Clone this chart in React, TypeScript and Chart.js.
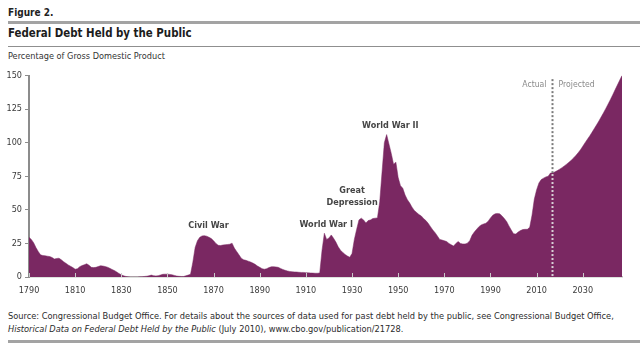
import React, { useEffect, useRef } from "react";
import { Chart, registerables } from "chart.js";

Chart.register(...registerables);

// ---------------- data ----------------
const years: number[] = [
  1790, 1791, 1792, 1793, 1794, 1795, 1796, 1797, 1798, 1799,
  1800, 1801, 1802, 1803, 1804, 1805, 1806, 1807, 1808, 1809,
  1810, 1811, 1812, 1813, 1814, 1815, 1816, 1817, 1818, 1819,
  1820, 1821, 1822, 1823, 1824, 1825, 1826, 1827, 1828, 1829,
  1830, 1831, 1832, 1833, 1834, 1835, 1836, 1837, 1838, 1839,
  1840, 1841, 1842, 1843, 1844, 1845, 1846, 1847, 1848, 1849,
  1850, 1851, 1852, 1853, 1854, 1855, 1856, 1857, 1858, 1859,
  1860, 1861, 1862, 1863, 1864, 1865, 1866, 1867, 1868, 1869,
  1870, 1871, 1872, 1873, 1874, 1875, 1876, 1877, 1878, 1879,
  1880, 1881, 1882, 1883, 1884, 1885, 1886, 1887, 1888, 1889,
  1890, 1891, 1892, 1893, 1894, 1895, 1896, 1897, 1898, 1899,
  1900, 1901, 1902, 1903, 1904, 1905, 1906, 1907, 1908, 1909,
  1910, 1911, 1912, 1913, 1914, 1915, 1916, 1917, 1918, 1919,
  1920, 1921, 1922, 1923, 1924, 1925, 1926, 1927, 1928, 1929,
  1930, 1931, 1932, 1933, 1934, 1935, 1936, 1937, 1938, 1939,
  1940, 1941, 1942, 1943, 1944, 1945, 1946, 1947, 1948, 1949,
  1950, 1951, 1952, 1953, 1954, 1955, 1956, 1957, 1958, 1959,
  1960, 1961, 1962, 1963, 1964, 1965, 1966, 1967, 1968, 1969,
  1970, 1971, 1972, 1973, 1974, 1975, 1976, 1977, 1978, 1979,
  1980, 1981, 1982, 1983, 1984, 1985, 1986, 1987, 1988, 1989,
  1990, 1991, 1992, 1993, 1994, 1995, 1996, 1997, 1998, 1999,
  2000, 2001, 2002, 2003, 2004, 2005, 2006, 2007, 2008, 2009,
  2010, 2011, 2012, 2013, 2014, 2015, 2016, 2017, 2018, 2019,
  2020, 2021, 2022, 2023, 2024, 2025, 2026, 2027, 2028, 2029,
  2030, 2031, 2032, 2033, 2034, 2035, 2036, 2037, 2038, 2039,
  2040, 2041, 2042, 2043, 2044, 2045, 2046, 2047,
];

// Federal debt held by the public, percent of GDP
const debtPct: number[] = [
  29.5, 28.0, 25.5, 22.0, 19.0, 16.5, 16.0, 15.8, 15.5, 15.2,
  14.5, 13.4, 13.8, 14.0, 12.8, 11.4, 10.2, 9.0, 8.0, 7.0,
  5.8, 6.2, 7.7, 8.5, 9.2, 9.8, 8.8, 7.2, 7.0, 7.2,
  7.8, 8.4, 8.2, 7.8, 7.3, 6.5, 5.6, 4.8, 3.8, 2.6,
  1.6, 0.9, 0.4, 0.1, 0.0, 0.0, 0.0, 0.0, 0.1, 0.2,
  0.4, 0.6, 0.9, 1.4, 1.0, 0.8, 1.0, 1.5, 2.0, 2.1,
  2.1, 1.9, 1.6, 1.2, 0.7, 0.5, 0.4, 0.4, 0.9, 1.4,
  2.0, 11.0, 22.0, 27.0, 29.5, 30.6, 30.8, 30.4, 29.6, 28.6,
  27.0, 25.0, 23.6, 23.4, 23.8, 24.0, 24.2, 24.4, 25.2, 21.5,
  19.0, 16.5, 14.0, 12.8, 12.4, 11.8, 11.2, 10.4, 9.4, 8.2,
  7.2, 6.2, 5.8, 6.2, 7.0, 7.6, 7.7, 7.5, 7.2, 6.4,
  5.6, 5.0, 4.5, 4.1, 3.9, 3.8, 3.7, 3.5, 3.4, 3.4,
  3.2, 3.1, 3.0, 2.9, 2.8, 2.8, 3.0, 20.0, 32.6, 28.0,
  29.0, 31.3, 28.8, 26.0, 22.5, 20.0, 18.2, 16.8, 15.6, 14.7,
  17.5, 28.0, 35.5, 42.5, 43.8, 42.5, 40.2, 42.0, 42.5, 43.5,
  43.8, 44.0, 56.0, 78.0, 100.0, 106.0, 99.0, 92.0, 84.0, 85.5,
  74.0, 68.0, 66.0, 61.0, 57.5, 55.0, 52.0, 49.5, 48.0, 46.5,
  45.5, 43.5, 42.0, 40.0, 37.5, 35.0, 33.0, 30.5, 28.0, 27.5,
  27.0, 26.4, 25.0, 24.0, 23.0, 25.0, 26.4, 25.0, 24.6, 24.6,
  25.2, 27.0, 31.0, 33.5, 35.5, 37.5, 38.8, 39.5, 40.0, 41.5,
  44.0, 46.0, 47.0, 47.3, 47.0, 45.5, 43.5, 41.3, 38.0, 35.0,
  32.2, 32.0, 33.5, 34.6, 35.3, 35.5, 35.5, 37.0, 46.0, 58.0,
  65.0, 70.0, 72.5, 73.6, 74.5, 75.0, 77.4, 77.5, 78.3, 79.2,
  80.3, 81.4, 82.7, 84.0, 85.4, 86.9, 88.6, 90.5, 92.5, 94.7,
  97.3, 100.0, 102.5, 105.0, 107.7, 110.5, 113.3, 116.2, 119.2, 122.3,
  125.5, 128.8, 132.2, 135.7, 139.3, 142.9, 146.5, 150.0,
];

const xTickYears: number[] = [1790, 1810, 1830, 1850, 1870, 1890, 1910, 1930, 1950, 1970, 1990, 2010, 2030];
const yTickValues: number[] = [0, 25, 50, 75, 100, 125, 150];

const firstYear = 1790;
const lastYear = 2047;
const lastActualYear = 2016;

// event labels: text lines, anchor year, anchor value (centre of the text block)
const eventLabels: string[][] = [["Civil War"], ["World War I"], ["Great", "Depression"], ["World War II"]];
const eventYears: number[] = [1867.8, 1918.8, 1930, 1946.6];
const eventValues: number[] = [38, 38.8, 59.7, 112.7];

const actualLabel = "Actual";
const projectedLabel = "Projected";
const phaseLabelValue = 143.3;

const COND = '"DejaVu Sans Condensed", "Liberation Sans", sans-serif';
const PURPLE = "#7a2862";

// ---------------- plugin ----------------
const overlayPlugin = {
  id: "overlay",
  afterDatasetsDraw(chart: any) {
    const { ctx, chartArea, scales } = chart;
    const x = scales.x;
    const y = scales.y;
    ctx.save();

    // inward tick marks on the x axis
    ctx.strokeStyle = "#c9c9c9";
    ctx.lineWidth = 1;
    xTickYears.forEach((v) => {
      const px = Math.round(x.getPixelForValue(v)) + 0.5;
      ctx.beginPath();
      ctx.moveTo(px, chartArea.bottom);
      ctx.lineTo(px, chartArea.bottom - 4);
      ctx.stroke();
    });

    // actual / projected divider
    const idx = years.indexOf(lastActualYear);
    const splitVal = debtPct[idx];
    const dx = Math.round(x.getPixelForValue(lastActualYear + 0.6)) + 0.5;
    const splitY = y.getPixelForValue(splitVal);
    const topY = y.getPixelForValue(phaseLabelValue + 4);
    ctx.lineWidth = 2;
    ctx.setLineDash([2, 2]);
    ctx.strokeStyle = "#7a7a7a";
    ctx.beginPath();
    ctx.moveTo(dx, topY);
    ctx.lineTo(dx, splitY);
    ctx.stroke();
    ctx.strokeStyle = "#d8d0d6";
    ctx.beginPath();
    ctx.moveTo(dx, splitY + 1);
    ctx.lineTo(dx, chartArea.bottom);
    ctx.stroke();
    ctx.setLineDash([]);

    ctx.font = `8.6px ${COND}`;
    ctx.fillStyle = "#8a8a8a";
    ctx.textBaseline = "middle";
    const ly = y.getPixelForValue(phaseLabelValue);
    ctx.textAlign = "right";
    ctx.fillText(actualLabel, dx - 6, ly);
    ctx.textAlign = "left";
    ctx.fillText(projectedLabel, dx + 6, ly);

    // event labels
    ctx.font = `bold 9px ${COND}`;
    ctx.fillStyle = "#454545";
    ctx.textAlign = "center";
    eventLabels.forEach((lines, i) => {
      const cx = x.getPixelForValue(eventYears[i]);
      const cy = y.getPixelForValue(eventValues[i]);
      const lh = 11.7;
      const start = cy - ((lines.length - 1) * lh) / 2;
      lines.forEach((t, j) => ctx.fillText(t, cx, start + j * lh));
    });

    ctx.restore();
  },
};

// ---------------- component ----------------
function DebtChart() {
  const ref = useRef<HTMLCanvasElement | null>(null);
  useEffect(() => {
    if (!ref.current) return;
    const points = years.map((yr, i) => ({ x: yr, y: debtPct[i] }));
    const chart = new Chart(ref.current, {
      type: "line",
      data: {
        datasets: [
          {
            data: points,
            fill: "origin",
            backgroundColor: PURPLE,
            borderColor: PURPLE,
            borderWidth: 0.5,
            pointRadius: 0,
            tension: 0,
          },
        ],
      },
      options: {
        animation: false,
        responsive: false,
        maintainAspectRatio: false,
        events: [],
        layout: { padding: { top: 15.5, right: 18, left: 0, bottom: 0 } },
        plugins: { legend: { display: false }, tooltip: { enabled: false }, title: { display: false } },
        scales: {
          x: {
            type: "linear",
            min: firstYear,
            max: lastYear,
            afterBuildTicks: (scale: any) => {
              scale.ticks = xTickYears.map((v) => ({ value: v }));
            },
            afterFit: (scale: any) => {
              scale.height = 23;
            },
            grid: { display: true, drawOnChartArea: false, drawTicks: false },
            border: { display: true, color: "#bcc4bc", width: 1.5 },
            ticks: {
              autoSkip: false,
              maxRotation: 0,
              padding: 8,
              color: "#3a3a3a",
              font: { family: COND, size: 9 },
              callback: (v: any) => String(v),
            },
          },
          y: {
            type: "linear",
            min: 0,
            max: 150,
            afterBuildTicks: (scale: any) => {
              scale.ticks = yTickValues.map((v) => ({ value: v }));
            },
            afterFit: (scale: any) => {
              scale.width = 29;
            },
            grid: { display: true, drawOnChartArea: false, drawTicks: true, tickLength: 4, color: "#8c8c8c", lineWidth: 1 },
            border: { display: true, color: "#8c8c8c", width: 2 },
            ticks: {
              padding: 3,
              color: "#3a3a3a",
              font: { family: COND, size: 9 },
            },
          },
        },
      },
      plugins: [overlayPlugin],
    });
    return () => chart.destroy();
  }, []);
  return <canvas ref={ref} width={640} height={240} style={{ position: "absolute", left: 0, top: 60, width: 640, height: 240 }} />;
}

export default function App() {
  const base: React.CSSProperties = { position: "absolute", whiteSpace: "nowrap", lineHeight: 1, fontFamily: COND };
  return (
    <div style={{ position: "absolute", left: 0, top: 0, width: 640, height: 359, background: "#ffffff", overflow: "hidden" }}>
      <div style={{ ...base, left: 8, top: 8, fontSize: 10, fontWeight: 700, color: "#222" }}>Figure 2.</div>
      <div style={{ position: "absolute", left: 8, top: 21, width: 632, height: 2.5, background: "#a3a3a3" }} />
      <div style={{ ...base, left: 8, top: 28, fontSize: 11.4, fontWeight: 700, color: "#1c1c1c" }}>Federal Debt Held by the Public</div>
      <div style={{ position: "absolute", left: 8, top: 46, width: 632, height: 1, background: "#8f8f8f" }} />
      <div style={{ ...base, left: 8, top: 51.5, fontSize: 9.1, color: "#333" }}>Percentage of Gross Domestic Product</div>
      <DebtChart />
      <div style={{ ...base, left: 8, top: 311, fontSize: 9.2, color: "#2c2c2c" }}>
        Source: Congressional Budget Office. For details about the sources of data used for past debt held by the public, see Congressional Budget Office,
      </div>
      <div style={{ ...base, left: 8, top: 324, fontSize: 9.2, color: "#2c2c2c" }}>
        <i>Historical Data on Federal Debt Held by the Public</i> (July 2010), www.cbo.gov/publication/21728.
      </div>
      <div style={{ position: "absolute", left: 8, top: 340, width: 632, height: 3, background: "#a3a3a3" }} />
    </div>
  );
}
